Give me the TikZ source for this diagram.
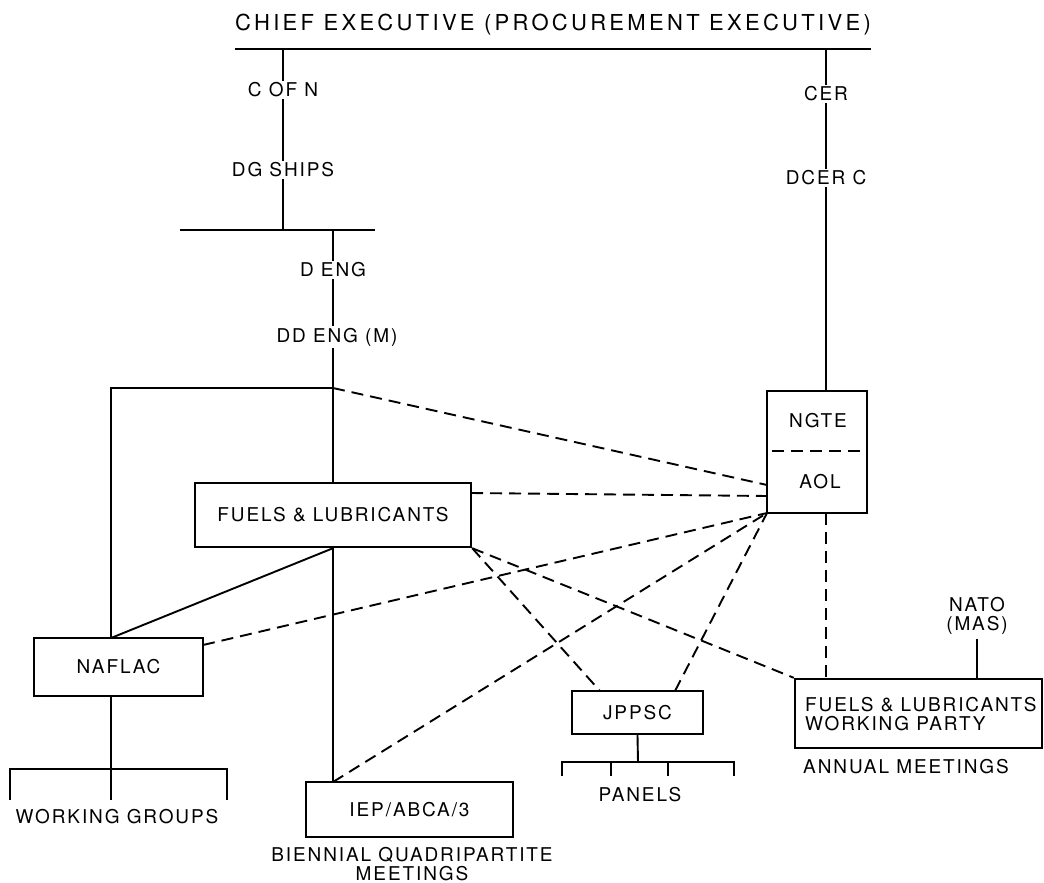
\documentclass[tikz,border=0pt]{standalone}
\usepackage{fontspec}
\setmainfont{TeX Gyre Heros}
\newfontfamily\labfont[LetterSpace=10]{TeX Gyre Heros}
\newfontfamily\titlefont[LetterSpace=15]{TeX Gyre Heros}
\usetikzlibrary{calc}
\tikzset{
  lbl/.style={font=\labfont\fontsize{19}{19}\selectfont, inner sep=1.5pt, fill=white},
  plain/.style={font=\labfont\fontsize{19}{19}\selectfont, inner sep=0pt},
  box/.style={draw, line width=2.4pt, font=\labfont\fontsize{19}{19}\selectfont, inner sep=0pt},
  solidln/.style={line width=1.9pt},
  dashln/.style={line width=1.9pt, dash pattern=on 12pt off 7pt},
}
\begin{document}
\begin{tikzpicture}[x=1pt, y=-1pt]
\useasboundingbox (0,0) rectangle (1044,883);
% title and top line
\node[font=\titlefont\fontsize{22}{24}\selectfont, inner sep=0pt] (title) at (553,25) {CHIEF EXECUTIVE (PROCUREMENT EXECUTIVE)};
\coordinate (tl) at (235,49);
\coordinate (tr) at (871,49);
\coordinate (jA) at (283,49);
\coordinate (jB) at (826,49);
\draw[solidln] (tl) -- (tr);
% left chain
\coordinate (h1) at (283,230);
\coordinate (hl) at (180,230);
\coordinate (hr) at (375,230);
\coordinate (jC) at (333,230);
\coordinate (j2) at (333,388);
\coordinate (jL) at (111,388);
\draw[solidln] (jA) -- (h1);
\draw[solidln] (hl) -- (hr);
% boxes
\node[box, minimum width=276pt, minimum height=64pt] (fuels) at (333,515) {FUELS \& LUBRICANTS};
\node[box, minimum width=169pt, minimum height=58pt] (naflac) at (118.5,667) {NAFLAC};
\node[box, minimum width=207pt, minimum height=55pt] (iep) at (409.5,809.5) {IEP/ABCA/3};
\node[box, minimum width=131pt, minimum height=43pt] (jppsc) at (637.5,712.5) {JPPSC};
\node[box, minimum width=100pt, minimum height=122pt] (ngte) at (817,452) {};
\node[plain] (ngtetxt) at (818,421) {NGTE};
\node[plain] (aoltxt) at (820,482) {AOL};
\node[box, minimum width=247pt, minimum height=69pt] (flwp) at (918.5,713.5) {};
\node[plain, align=left, anchor=north west] (flwptxt) at (805,697) {FUELS \& LUBRICANTS\\WORKING PARTY};
\draw[dashln] ($(ngte.west)+(6,-1)$) coordinate (dvl) -- ($(ngte.east)+(-5,-1)$) coordinate (dvr);
% coordinates on boxes
\coordinate (nT) at (111,638);
\coordinate (nB) at (111,696);
\coordinate (iT) at (333,782);
\coordinate (ngT) at (826,391);
\coordinate (ngB) at (826,513);
\coordinate (aolA) at (767,485);
\coordinate (aolB) at (767,496);
\coordinate (aolC) at (767,513);
\coordinate (fuR) at (471,493);
\coordinate (nafR) at (203,645);
\coordinate (jpL) at (600,691);
\coordinate (jpR) at (675,691);
\coordinate (wpT) at (826,679);
\coordinate (wpN) at (977,679);
% solid connectors
\draw[solidln] (jC) -- (j2) -- (fuels.north);
\draw[solidln] (j2) -- (jL) -- (nT);
\draw[solidln] (fuels.south) -- (iT);
\draw[solidln] (fuels.south) -- (nT);
\draw[solidln] (jB) -- (ngT);
% working groups bracket
\coordinate (wg) at (111,769);
\draw[solidln] (nB) -- (wg);
\draw[solidln] (10,800) -- (10,769) -- (227,769) -- (227,800);
\draw[solidln] (wg) -- (111,800);
% panels bracket
\coordinate (pn) at (638,762);
\draw[solidln] (jppsc.south) -- (pn);
\draw[solidln] (562,776) -- (562,762) -- (734,762) -- (734,776);
\draw[solidln] (611,762) -- (611,776);
\draw[solidln] (668,762) -- (668,776);
% dashed connectors
\draw[dashln] (j2) -- (aolA);
\draw[dashln] (fuR) -- (aolB);
\draw[dashln] (nafR) -- (aolC);
\draw[dashln] (iT) -- (aolC);
\draw[dashln] (jpR) -- (aolC);
\draw[dashln] (fuels.south east) -- (jpL);
\draw[dashln] (fuels.south east) -- (flwp.north west);
\draw[dashln] (ngB) -- (wpT);
% NATO
\node[plain, align=center] (nato) at (977,616) {NATO\\(MAS)};
\draw[solidln] (nato.south) ++(0,4) coordinate (natoB) -- (wpN);
% labels on lines
\node[lbl] (cofn) at (283,90) {C OF N};
\node[lbl] (dgships) at (283,170) {DG SHIPS};
\node[lbl] (cer) at (826,94) {CER};
\node[lbl] (dcerc) at (826,178) {DCER C};
\node[lbl] (deng) at (333,270) {D ENG};
\node[lbl] (ddeng) at (337,337) {DD ENG (M)};
% free labels
\node[plain] (wgl) at (117,817) {WORKING GROUPS};
\node[plain] (pnl) at (640,795) {PANELS};
\node[plain, align=center] (bien) at (412,864) {BIENNIAL QUADRIPARTITE\\MEETINGS};
\node[plain] (annual) at (906,767) {ANNUAL MEETINGS};
\end{tikzpicture}
\end{document}
